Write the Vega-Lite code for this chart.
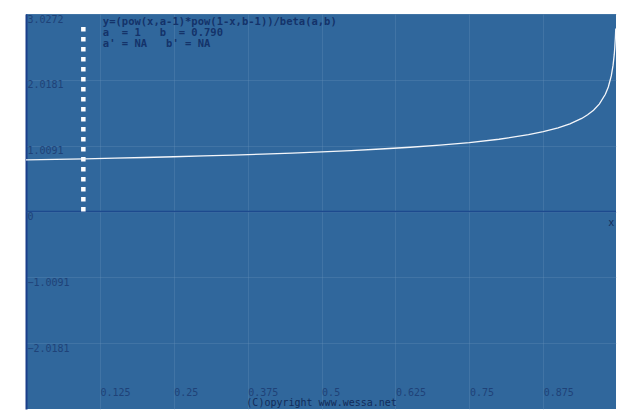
{
  "$schema": "https://vega.github.io/schema/vega-lite/v6.json",
  "autosize": "none",
  "width": 590,
  "height": 395,
  "padding": {"left": 26, "top": 14, "right": 13, "bottom": 11},
  "background": "white",
  "config": {"view": {"fill": "#30679c", "stroke": null}},
  "datasets": {
    "curve": [
      {"x": 0, "y": 0.79}, {"x": 0.05, "y": 0.7986}, {"x": 0.1, "y": 0.8077}, {"x": 0.15, "y": 0.8174},
      {"x": 0.2, "y": 0.8279}, {"x": 0.25, "y": 0.8392}, {"x": 0.3, "y": 0.8514}, {"x": 0.35, "y": 0.8648},
      {"x": 0.4, "y": 0.8795}, {"x": 0.45, "y": 0.8957}, {"x": 0.5, "y": 0.9138}, {"x": 0.55, "y": 0.9342},
      {"x": 0.6, "y": 0.9576}, {"x": 0.65, "y": 0.9849}, {"x": 0.7, "y": 1.0173}, {"x": 0.75, "y": 1.057},
      {"x": 0.8, "y": 1.1077}, {"x": 0.85, "y": 1.1767}, {"x": 0.875, "y": 1.2226}, {"x": 0.9, "y": 1.2812},
      {"x": 0.92, "y": 1.3427}, {"x": 0.94, "y": 1.4263}, {"x": 0.95, "y": 1.482}, {"x": 0.96, "y": 1.5531},
      {"x": 0.97, "y": 1.6498}, {"x": 0.98, "y": 1.7964}, {"x": 0.985, "y": 1.9083}, {"x": 0.99, "y": 2.0779},
      {"x": 0.993, "y": 2.2395}, {"x": 0.995, "y": 2.4035}, {"x": 0.996, "y": 2.5188}, {"x": 0.997, "y": 2.6757},
      {"x": 0.9976, "y": 2.8041}
    ],
    "formula": [
      {"x": 0.13, "y": 2.905, "t": "y=(pow(x,a-1)*pow(1-x,b-1))/beta(a,b)"},
      {"x": 0.13, "y": 2.737, "t": "a\u00a0\u00a0=\u00a01\u00a0\u00a0\u00a0b\u00a0\u00a0=\u00a00.790"},
      {"x": 0.13, "y": 2.569, "t": "a'\u00a0=\u00a0NA\u00a0\u00a0\u00a0b'\u00a0=\u00a0NA"}
    ],
    "notes": [
      {"x": 0.99, "y": -0.17, "t": "x"},
      {"x": 0.5, "y": -2.93, "t": "(C)opyright\u00a0www.wessa.net"}
    ]
  },
  "layer": [
    {
      "data": {"values": [{"y": 0}]},
      "mark": {"type": "rule", "color": "#1d4a8e", "strokeWidth": 1.5},
      "encoding": {"y": {"field": "y", "type": "quantitative"}}
    },
    {
      "data": {"values": [{"x": 0.097, "y": 0, "y2": 2.9}]},
      "mark": {"type": "rule", "color": "white", "strokeWidth": 4.5, "strokeDash": [4.5, 5.5]},
      "encoding": {
        "x": {"field": "x", "type": "quantitative"},
        "y": {"field": "y", "type": "quantitative"},
        "y2": {"field": "y2"}
      }
    },
    {
      "data": {"name": "curve"},
      "mark": {"type": "line", "color": "#f4f6fa", "strokeWidth": 1.3},
      "encoding": {
        "x": {
          "field": "x", "type": "quantitative",
          "scale": {"domain": [0, 0.998], "nice": false, "zero": false},
          "axis": {
            "values": [0.125, 0.25, 0.375, 0.5, 0.625, 0.75, 0.875],
            "title": null, "domain": false, "ticks": false,
            "grid": true, "gridColor": "#6b93ba", "gridOpacity": 0.3,
            "labelAlign": "left", "labelBaseline": "middle", "labelPadding": -17,
            "labelFlush": false, "labelOverlap": false,
            "labelFont": "DejaVu Sans Mono", "labelFontSize": 10, "labelColor": "#1f4278",
            "labelExpr": "datum.value == 0.25 ? '0.25' : datum.value == 0.5 ? '0.5' : datum.value == 0.75 ? '0.75' : format(datum.value, '.3f')"
          }
        },
        "y": {
          "field": "y", "type": "quantitative",
          "scale": {"domain": [-3.0272, 3.0272], "nice": false, "zero": false},
          "axis": {
            "values": [-2.0181, -1.0091, 0, 1.0091, 2.0181, 3.0272],
            "title": null, "domain": true, "domainColor": "#1a3f8a", "domainWidth": 2,
            "ticks": false,
            "grid": true, "gridColor": "#6b93ba", "gridOpacity": 0.3,
            "labelAlign": "left", "labelBaseline": "top", "labelPadding": -1, "labelDy": 1,
            "labelFlush": false, "labelOverlap": false,
            "labelFont": "DejaVu Sans Mono", "labelFontSize": 10, "labelColor": "#1f4278",
            "labelExpr": "datum.value == 0 ? '0' : format(datum.value, '.4f')"
          }
        }
      }
    },
    {
      "data": {"name": "formula"},
      "mark": {"type": "text", "align": "left", "baseline": "middle", "font": "DejaVu Sans Mono", "fontSize": 10.5, "fontWeight": "bold", "color": "#14336a"},
      "encoding": {
        "x": {"field": "x", "type": "quantitative"},
        "y": {"field": "y", "type": "quantitative"},
        "text": {"field": "t"}
      }
    },
    {
      "data": {"name": "notes"},
      "mark": {"type": "text", "align": "center", "baseline": "middle", "font": "DejaVu Sans Mono", "fontSize": 10, "color": "#122c5a"},
      "encoding": {
        "x": {"field": "x", "type": "quantitative"},
        "y": {"field": "y", "type": "quantitative"},
        "text": {"field": "t"}
      }
    }
  ]
}
